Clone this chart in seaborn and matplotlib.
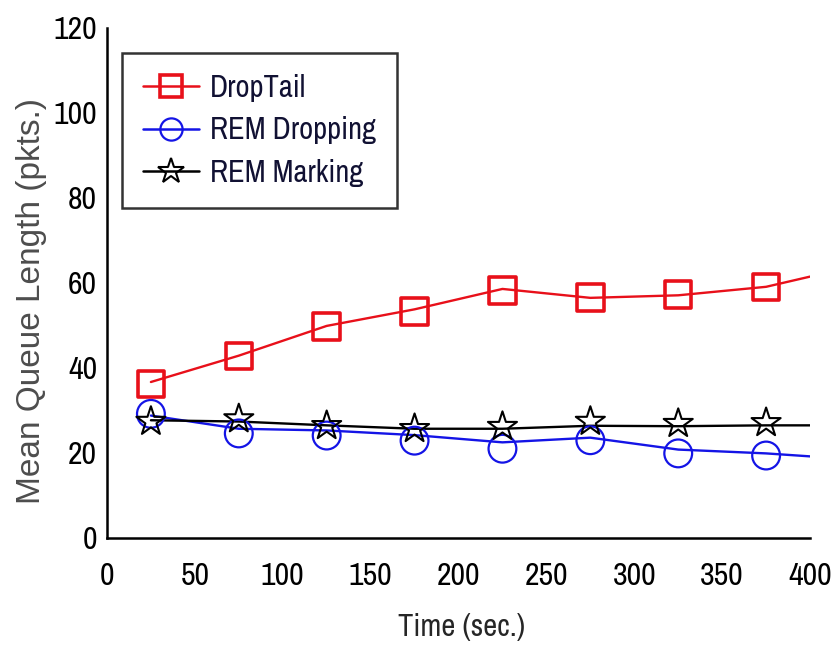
import matplotlib
matplotlib.use("Agg")
import matplotlib.pyplot as plt
from matplotlib import font_manager
from matplotlib.lines import Line2D
import seaborn as sns
import pandas as pd

# Simulation time (s) at which the mean queue length was sampled
line_time = [25, 75, 125, 175, 225, 275, 325, 375, 400]
marker_time = [25, 75, 125, 175, 225, 275, 325, 375]

# Mean queue length (packets) along each curve
droptail_line = [36.7, 42.9, 49.9, 53.8, 58.6, 56.5, 57.1, 59.1, 61.5]
rem_drop_line = [28.8, 25.7, 25.3, 24.2, 22.5, 23.6, 20.8, 19.9, 19.2]
rem_mark_line = [27.7, 27.4, 26.5, 25.7, 25.7, 26.4, 26.3, 26.5, 26.5]

# Sample points shown with symbols
droptail_pts = [36.3, 42.8, 49.8, 53.3, 58.2, 56.6, 57.3, 59.0]
rem_drop_pts = [29.2, 24.6, 24.1, 22.9, 21.0, 23.0, 19.9, 19.4]
rem_mark_pts = [27.4, 28.0, 26.4, 25.7, 26.2, 27.4, 26.9, 27.1]

series = ["DropTail", "REM Dropping", "REM Marking"]
colors = ["#e8101a", "#1414e6", "#000000"]
markers = ["s", "o", "*"]

x_ticks = [0, 50, 100, 150, 200, 250, 300, 350, 400]
y_ticks = [0, 20, 40, 60, 80, 100, 120]

sns.set_style("white")

# Prefer a condensed sans face for the tick labels and legend if one exists
names = sorted({f.name for f in font_manager.fontManager.ttflist})
condensed = [n for n in names if "Narrow" in n or "Condensed" in n]
narrow = condensed[:1] + ["Liberation Sans", "DejaVu Sans"]
plt.rcParams["font.family"] = narrow

lines_df = pd.DataFrame({
    "time": line_time * 3,
    "queue": droptail_line + rem_drop_line + rem_mark_line,
    "series": [s for s in series for _ in line_time],
})
pts_df = pd.DataFrame({
    "time": marker_time * 3,
    "queue": droptail_pts + rem_drop_pts + rem_mark_pts,
    "series": [s for s in series for _ in marker_time],
})

fig = plt.figure(figsize=(8.37, 6.48), dpi=100)
ax = fig.add_axes([0.1278, 0.1698, 0.840, 0.787])

palette = dict(zip(series, colors))
sns.lineplot(data=lines_df, x="time", y="queue", hue="series", palette=palette,
             linewidth=1.7, legend=False, ax=ax)

marker_area = {"s": 19 ** 2, "o": 20 ** 2, "*": 22 ** 2}
marker_lw = {"s": 2.6, "o": 1.6, "*": 1.5}
for name, col, mk in zip(series, colors, markers):
    sub = pts_df[pts_df["series"] == name]
    sns.scatterplot(data=sub, x="time", y="queue", marker=mk,
                    s=marker_area[mk], facecolor="none", edgecolor=col,
                    linewidth=marker_lw[mk], legend=False, ax=ax, zorder=3)

ax.set_xlim(0, 400)
ax.set_ylim(0, 120)
ax.set_xticks(x_ticks)
ax.set_yticks(y_ticks)
ax.tick_params(axis="both", direction="in", length=8, width=1.8,
               labelsize=23, colors="black")
ax.tick_params(axis="x", pad=17)
ax.tick_params(axis="y", pad=7)
for side in ("top", "right"):
    ax.spines[side].set_visible(False)
for side in ("left", "bottom"):
    ax.spines[side].set_linewidth(1.8)
    ax.spines[side].set_color("black")

ax.set_xlabel("Time (sec.)", fontsize=22)
ax.xaxis.set_label_coords(0.504, -0.148)
ax.set_ylabel("Mean Queue Length (pkts.)", fontsize=24, color="#4d4d4d",
              family=["Liberation Sans", "DejaVu Sans"])
ax.yaxis.set_label_coords(-0.085, 0.465)

handles = [
    Line2D([], [], color=c, marker=m, markersize=(16 if m != "*" else 19),
           markerfacecolor="none", markeredgecolor=c,
           markeredgewidth=marker_lw[m], linewidth=1.8)
    for c, m in zip(colors, markers)
]
leg = ax.legend(handles, series, loc="upper left", bbox_to_anchor=(0.021, 0.951),
                fontsize=22, frameon=True, fancybox=False, handlelength=1.85,
                handletextpad=0.35, labelspacing=0.48, borderpad=0.68,
                borderaxespad=0.0)
leg.get_frame().set_edgecolor("black")
leg.get_frame().set_linewidth(1.8)
for t in leg.get_texts():
    t.set_color("#111133")

fig.savefig("out.png", dpi=100)
